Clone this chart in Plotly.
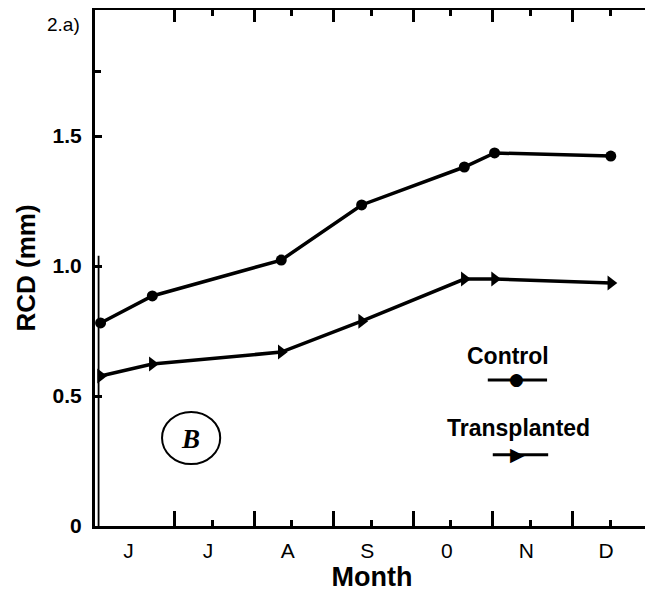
import plotly.graph_objects as go

# ---- data ----
sample_month = [0.07, 0.72, 2.34, 3.35, 4.64, 5.02, 6.48]   # months after 1 June
control = [0.781, 0.885, 1.023, 1.235, 1.381, 1.435, 1.423]
transplanted = [0.577, 0.623, 0.669, 0.788, 0.950, 0.950, 0.935]

month_labels = ["J", "J", "A", "S", "0", "N", "D"]
label_pos = [0.42, 1.42, 2.42, 3.42, 4.42, 5.42, 6.42]
month_bounds = [1, 2, 3, 4, 5, 6]
mid_month = [1.47, 2.47, 3.47, 4.47, 5.47, 6.47]
y_tick_vals = [0, 0.5, 1.0, 1.5]
y_tick_text = ["0", "0.5", "1.0", "1.5"]
y_minor_vals = [1.75]

X_RANGE = [0, 6.96]
Y_RANGE = [0, 1.985]
FONT = "Liberation Sans, Arial, sans-serif"

fig = go.Figure()
fig.add_trace(go.Scatter(
    x=sample_month, y=control, mode="lines+markers", name="Control",
    line=dict(color="black", width=3.5),
    marker=dict(symbol="circle", size=11, color="black"),
    showlegend=False))
fig.add_trace(go.Scatter(
    x=sample_month, y=transplanted, mode="lines+markers", name="Transplanted",
    line=dict(color="black", width=3.5),
    marker=dict(symbol="triangle-right", size=13, color="black"),
    showlegend=False))
# empty traces so the overlay axes (top axis, short bottom ticks) are drawn
fig.add_trace(go.Scatter(x=[], y=[], xaxis="x2", showlegend=False, hoverinfo="skip"))
fig.add_trace(go.Scatter(x=[], y=[], xaxis="x3", showlegend=False, hoverinfo="skip"))

# page body has an 8px margin, so the figure is sized to fit the 653x600 window
fig.update_layout(
    width=645, height=584,
    margin=dict(l=87, r=4, t=2, b=66),
    plot_bgcolor="white", paper_bgcolor="white",
    font=dict(family=FONT, color="black"),
    xaxis=dict(
        range=X_RANGE, tickmode="array", tickvals=label_pos, ticktext=month_labels,
        ticks="", showline=True, linewidth=3, linecolor="black",
        showgrid=False, zeroline=False,
        tickfont=dict(size=21, family=FONT), ticklabelstandoff=4,
        title=dict(text="Month", font=dict(size=27, family=FONT, weight="bold"), standoff=8),
        minor=dict(tickmode="array", tickvals=month_bounds, ticks="inside",
                   ticklen=15, tickwidth=2.5, tickcolor="black", showgrid=False),
        anchor="y"),
    xaxis3=dict(
        range=X_RANGE, overlaying="x", side="bottom", anchor="y",
        tickmode="array", tickvals=mid_month, ticks="inside", ticklen=6,
        tickwidth=2.5, tickcolor="black", showticklabels=False,
        showline=False, showgrid=False, zeroline=False),
    xaxis2=dict(
        range=X_RANGE, overlaying="x", side="top", anchor="y",
        tickmode="array", tickvals=month_bounds, ticks="inside", ticklen=12,
        tickwidth=2.5, tickcolor="black", showticklabels=False,
        showline=True, linewidth=4, linecolor="black",
        showgrid=False, zeroline=False,
        minor=dict(tickmode="array", tickvals=mid_month, ticks="inside",
                   ticklen=6, tickwidth=2.5, tickcolor="black", showgrid=False)),
    yaxis=dict(
        range=Y_RANGE, tickmode="array", tickvals=y_tick_vals, ticktext=y_tick_text,
        ticks="inside", ticklen=7, tickwidth=2.5, tickcolor="black",
        showline=True, linewidth=3, linecolor="black", mirror=True,
        showgrid=False, zeroline=False,
        tickfont=dict(size=21, family=FONT, weight="bold"), ticklabelstandoff=6,
        title=dict(text="RCD (mm)", font=dict(size=26, family=FONT, weight="bold"), standoff=10),
        minor=dict(tickmode="array", tickvals=y_minor_vals, ticks="inside",
                   ticklen=6, tickwidth=2.5, tickcolor="black", showgrid=False)),
)

# second (inner) line of the doubled left axis
fig.add_shape(type="line", xref="x", yref="y", x0=0.045, x1=0.045, y0=0, y1=1.04,
              line=dict(color="black", width=1.8))

# legend drawn as in the figure: label above a line sample with its marker
def note(x, y, text, size, **kw):
    fig.add_annotation(xref="paper", yref="paper", x=x, y=y, text=text, showarrow=False,
                       xanchor="center", yanchor="middle", font=dict(size=size, **kw))

note(0.745, 0.329, "Control", 23, family=FONT, weight="bold")
fig.add_shape(type="line", xref="paper", yref="paper", x0=0.709, x1=0.816, y0=0.283, y1=0.283,
              line=dict(color="black", width=3))
note(0.760, 0.285, "●", 17, color="black", family="DejaVu Sans")
note(0.764, 0.190, "Transplanted", 23, family=FONT, weight="bold")
fig.add_shape(type="line", xref="paper", yref="paper", x0=0.718, x1=0.818, y0=0.138, y1=0.138,
              line=dict(color="black", width=3))
note(0.762, 0.140, "▶", 19, color="black", family="DejaVu Sans")

# panel label
fig.add_shape(type="circle", xref="paper", yref="paper", x0=0.121, x1=0.226, y0=0.120, y1=0.221,
              line=dict(color="black", width=2))
note(0.173, 0.168, "<b><i>B</i></b>", 27, family="Liberation Serif, Times New Roman, serif")

# top-left label as printed
fig.add_annotation(xref="paper", yref="paper", x=-0.024, y=0.971, xanchor="right", yanchor="middle",
                   text="2.a)", showarrow=False, font=dict(size=19, family=FONT))

fig.write_html("out.html")
